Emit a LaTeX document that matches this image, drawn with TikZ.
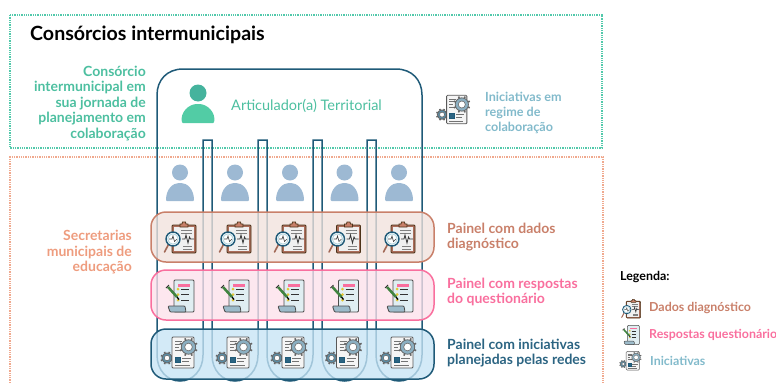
\documentclass[tikz,border=0pt]{standalone}
\usepackage{fontspec}
\setmainfont{Lato}
\definecolor{cNavy}{HTML}{1F5A78}
\definecolor{cGreen}{HTML}{4DBFA0}
\definecolor{cHead}{HTML}{45B39D}
\definecolor{cBody}{HTML}{52CCA5}
\definecolor{cGreenDot}{HTML}{52C9AB}
\definecolor{cOrangeDot}{HTML}{F0A98E}
\definecolor{cSec}{HTML}{EE9C7E}
\definecolor{cRust}{HTML}{C9806A}
\definecolor{cPink}{HTML}{F96F9E}
\definecolor{cPanel}{HTML}{2B6482}
\definecolor{cTeal}{HTML}{82BACB}
\definecolor{cPerson}{HTML}{9DB9D3}
\definecolor{cGearBlue}{HTML}{5A8DA6}
\definecolor{cBandBlue}{HTML}{C6E4F5}
\definecolor{cBandRed}{HTML}{F1E2DC}
\definecolor{cBandPink}{HTML}{FDE0EA}
\newcommand{\ilw}{.8pt}
\newcommand{\gearat}[4]{%
  \foreach \ga in {0,45,...,315}{\draw[black!60,line width=2*\ilw] (#1,#2)+(\ga+22.5:#3*.8) -- +(\ga+22.5:#3*1.1);}
  \draw[black!60,line width=\ilw,fill=#4] (#1,#2) circle[radius=#3*.85];
  \draw[black!60,line width=.7*\ilw,fill=white] (#1,#2) circle[radius=#3*.45];}
\tikzset{
  dotbox/.style={densely dotted,line width=1.3pt},
  band/.style={rounded corners=15pt,line width=1.5pt,minimum width=283pt,minimum height=50pt,inner sep=0pt,fill opacity=.78},
  lbl/.style={font=\fontsize{14}{15.5}\selectfont\bfseries,inner sep=0pt},
  lgd/.style={font=\fontsize{12.4}{14}\selectfont\bfseries,inner sep=0pt,anchor=west},
  pics/iconDados/.style={code={
    \draw[line width=1.2*\ilw,draw=black!60!brown,fill=cRust!85!black,rounded corners=1pt] (-8,-13) rectangle (16,15);
    \fill[black!6!white] (-6,-11) rectangle (14,13);
    \draw[line width=\ilw,draw=black!60!brown,fill=cRust] (0,-12) -- (0,-14) -- (2,-14) -- (2.5,-16) -- (5.5,-16) -- (6,-14) -- (8,-14) -- (8,-11) -- (0,-11) -- cycle;
    \draw[gray,line width=\ilw] (1,-8) -- (12,-8) (1,-5) -- (12,-5) (3,8) -- (12,8) (3,11) -- (12,11);
    \draw[black!80,line width=\ilw] (2,1) -- (5,1) -- (6,-3) -- (8,5) -- (9.5,-1) -- (10.5,1) -- (14,1);
    \draw[cRust!80!black,line width=2*\ilw,line cap=round] (-11.5,6.5) -- (-15.5,14);
    \draw[cNavy,line width=1.8*\ilw,fill=white] (-7,1) circle[radius=7];
    \draw[cTeal!60!white,line width=1.2*\ilw] (-7,1) circle[radius=5.2];
    \draw[black!75,line width=.8*\ilw] (-11,1) -- (-8,1) -- (-7,-2) -- (-5.5,3.5) -- (-3,1);
  }},
  pics/iconRespostas/.style={code={
    \draw[line width=\ilw,draw=black!70,fill=cTeal!25!white,rounded corners=1pt] (-6,-16) rectangle (14,16);
    \fill[cPink] (-2,-12.5) rectangle (10,-9.5);
    \foreach \dy in {-7,-1.5,4}{
      \fill[yellow!55!brown] (-2,\dy) circle[radius=1.5];
      \draw[black!80,line width=\ilw] (1,\dy) -- (9,\dy);}
    \draw[black!70,line width=\ilw,fill=cGearBlue!60!white,rounded corners=1pt] (-12,10) -- (5,10) -- (6,16) -- (-10,16) -- cycle;
    \draw[green!35!black!75,line width=3.2*\ilw] (-12,-9) -- (-3,1);
    \draw[black,line width=1.6*\ilw] (-3,1) -- (-1,3.5);
    \draw[black!80,line width=\ilw] (-14,-8) -- (-11,-11);
  }},
  pics/iconIniciativas/.style={code={
    \gearat{-13}{5}{6}{cGearBlue}
    \draw[line width=\ilw,draw=black!65,fill=black!4,rounded corners=1pt] (-8,-16) rectangle (14,15);
    \draw[black!55,line width=\ilw] (-5,-12) -- (2,-12) (-5,-9) -- (0,-9) (-5,-6) -- (-1,-6) (-5,-3) -- (0,-3);
    \draw[black!55,line width=\ilw] (2,5) -- (11,5) (2,8) -- (9,8) (-5,12) -- (10,12);
    \draw[cNavy,line width=\ilw,fill=cPanel] (-5,4) rectangle (0,9);
    \gearat{8.5}{-6}{8.5}{cGearBlue!70!white}
  }},
  pics/personBlue/.style={code={
    \fill[cPerson] (0,172.5) circle[radius=8];
    \fill[cPerson,rounded corners=1pt] (-14,201) .. controls (-14,189) and (-7,183) .. (0,183) .. controls (7,183) and (14,189) .. (14,201) -- cycle;
  }},
}
\begin{document}
\begin{tikzpicture}[x=1pt,y=-1pt]
\useasboundingbox (0,0) rectangle (776,383);
% dotted frames
\draw[dotbox,cGreenDot] (10,15) rectangle (602,148);
\draw[dotbox,cOrangeDot] (10,383) -- (10,157) -- (603,157) -- (603,383);
% lobes below the blue band
\begin{scope}
\clip (150,379) rectangle (430,383);
\foreach \cx in {180,235,290,344.5,399}{\fill[cTeal!45!white] (\cx,379) ellipse[x radius=10,y radius=2];}
\end{scope}
% outline with slots
\draw[cNavy,line width=1.5pt]
  (157,355) -- (157,95) .. controls (157,80) and (167,69) .. (183,69) -- (396,69)
  .. controls (412,69) and (422,80) .. (422,95) -- (422,355)
  .. controls (422,370) and (412,381) .. (399,381) .. controls (386,381) and (376,370) .. (376,355)
  -- (376,140) -- (367,140) -- (367,355)
  .. controls (367,370) and (357,381) .. (344.5,381) .. controls (332,381) and (322,370) .. (322,355)
  -- (322,140) -- (313,140) -- (313,355)
  .. controls (313,370) and (303,381) .. (290,381) .. controls (277,381) and (267,370) .. (267,355)
  -- (267,140) -- (258,140) -- (258,355)
  .. controls (258,370) and (248,381) .. (235,381) .. controls (222,381) and (212,370) .. (212,355)
  -- (212,140) -- (203,140) -- (203,355)
  .. controls (203,370) and (193,381) .. (180,381) .. controls (167,381) and (157,370) .. (157,355);
% articulator
\fill[cHead] (198,93) circle[radius=8.5];
\fill[cBody,rounded corners=1pt] (182,123) .. controls (180,112) and (189,104) .. (198,104) .. controls (207,104) and (216,112) .. (214,123) -- cycle;
\node[font=\fontsize{14.5}{17}\selectfont,text=cGreen,inner sep=0pt,anchor=west] (artic) at (231,105.5) {Articulador(a) Territorial};
% persons
\foreach \cx in {180,235,290,344.5,399}{\pic at (\cx,0) {personBlue};}
% bands
\node[band,draw=cRust,fill=cBandRed] (bandDados) at (292.5,237) {};
\node[band,draw=cPink,fill=cBandPink] (bandResp) at (292.5,295) {};
\node[band,draw=cNavy,fill=cBandBlue] (bandInic) at (292.5,354) {};
% icons
\foreach \cx in {180,235,290,344.5,399}{
  \pic at (\cx,238) {iconDados};
  \pic at (\cx,296) {iconRespostas};
  \pic at (\cx,353) {iconIniciativas};
}
\pic[scale=.92] at (454,110) {iconIniciativas};
% texts
\node[font=\fontsize{19.6}{23}\selectfont\bfseries,inner sep=0pt,anchor=west] (title) at (30,35) {Consórcios intermunicipais};
\node[lbl,text=cGreen,align=right,anchor=north east] (lblCons) at (146,65.5) {Consórcio\\intermunicipal em\\sua jornada de\\planejamento em\\colaboração};
\node[lbl,text=cSec,align=right,anchor=north east] (lblSec) at (132,230) {Secretarias\\municipais de\\educação};
\node[lbl,text=cTeal,align=left,anchor=north west,font=\fontsize{12.6}{15}\selectfont\bfseries] (lblIniReg) at (485,92) {Iniciativas em\\regime de\\colaboração};
\node[lbl,text=cRust,align=left,anchor=north west] (lblP1) at (447,222.5) {Painel com dados\\diagnóstico};
\node[lbl,text=cPink,align=left,anchor=north west] (lblP2) at (447,277.5) {Painel com respostas\\do questionário};
\node[lbl,text=cPanel,align=left,anchor=north west] (lblP3) at (447,338.5) {Painel com iniciativas\\planejadas pelas redes};
% legend
\node[lgd] (lgdTitle) at (620,277) {Legenda:};
\begin{scope}
\renewcommand{\ilw}{.5pt}
\pic[scale=.6] at (631,309) {iconDados};
\pic[scale=.6] at (631,335) {iconRespostas};
\pic[scale=.6] at (631,361) {iconIniciativas};
\end{scope}
\node[lgd,text=cRust] (lgdA) at (649,308) {Dados diagnóstico};
\node[lgd,text=cPink] (lgdB) at (649,335) {Respostas questionário};
\node[lgd,text=cTeal] (lgdC) at (650,361) {Iniciativas};
\end{tikzpicture}
\end{document}
